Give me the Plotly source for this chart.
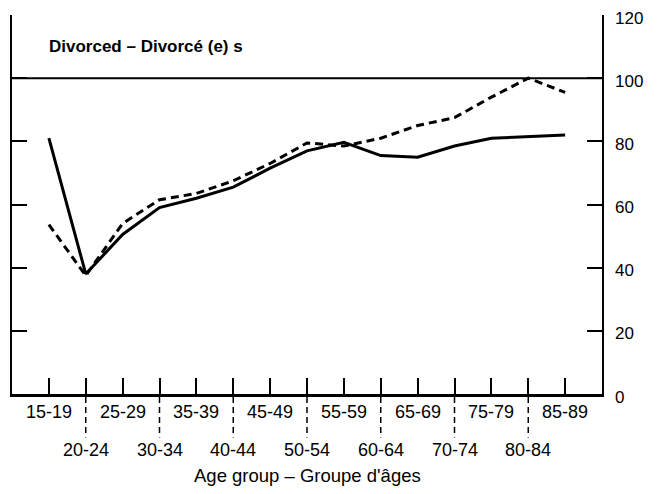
import plotly.graph_objects as go

age_groups = ["15-19", "20-24", "25-29", "30-34", "35-39", "40-44", "45-49",
              "50-54", "55-59", "60-64", "65-69", "70-74", "75-79", "80-84", "85-89"]
solid_values = [81, 38, 50.5, 59, 62, 65.5, 71.5, 77, 79.7, 75.5, 75, 78.5, 81, 81.6, 82]
dashed_values = [53.6, 37.5, 54, 61.5, 63.5, 67.5, 73, 79.5, 78.5, 81, 85, 87.5, 94, 100, 95.5]
y_ticks = [0, 20, 40, 60, 80, 100, 120]
reference_level = 100
title_text = "Divorced – Divorcé (e) s"
x_title = "Age group – Groupe d'âges"

idx = list(range(len(age_groups)))
FONT = "Liberation Sans, Arial, sans-serif"

fig = go.Figure()
fig.add_trace(go.Scatter(x=idx, y=solid_values, mode="lines",
                         line=dict(color="black", width=3), showlegend=False))
fig.add_trace(go.Scatter(x=idx, y=dashed_values, mode="lines",
                         line=dict(color="black", width=3, dash="8px,5px"), showlegend=False))
# invisible trace for right axis
fig.add_trace(go.Scatter(x=[idx[0]], y=[0], mode="markers", yaxis="y2",
                         marker=dict(opacity=0), showlegend=False, hoverinfo="skip"))

fig.add_shape(type="line", xref="paper", yref="y", x0=0, x1=1,
              y0=reference_level, y1=reference_level, line=dict(color="black", width=2))

# staggered category labels and dashed separators
for i, lab in enumerate(age_groups):
    if i % 2 == 0:
        fig.add_annotation(x=i, y=-0.0475, xref="x", yref="paper", text=lab,
                           showarrow=False, yanchor="middle",
                           font=dict(family=FONT, size=18, color="black"))
    else:
        fig.add_annotation(x=i, y=-0.148, xref="x", yref="paper", text=lab,
                           showarrow=False, yanchor="middle",
                           font=dict(family=FONT, size=18, color="black"))
        fig.add_shape(type="line", xref="x", yref="paper", x0=i, x1=i,
                      y0=-0.008, y1=-0.115,
                      line=dict(color="black", width=1.5, dash="6px,4px"))

# right-hand value labels (slightly below their ticks, as in the original)
for v in y_ticks:
    fig.add_annotation(x=1, y=v, xref="paper", yref="y", text=str(v),
                       showarrow=False, xanchor="left", yanchor="middle",
                       xshift=11, yshift=-3,
                       font=dict(family=FONT, size=17, color="black"))

fig.add_annotation(x=0.5, y=-0.216, xref="paper", yref="paper", text=x_title,
                   showarrow=False, yanchor="middle", xanchor="center",
                   font=dict(family=FONT, size=18.5, color="black"))
fig.add_annotation(x=0.059, y=0.918, xref="paper", yref="paper",
                   text="<b>" + title_text + "</b>", showarrow=False,
                   xanchor="left", yanchor="middle",
                   font=dict(family=FONT, size=17, color="black"))

y_range = [0, 120]

fig.update_layout(
    width=651, height=478,
    margin=dict(l=4, r=57, t=7, b=92, autoexpand=False),
    paper_bgcolor="white", plot_bgcolor="white",
    xaxis=dict(range=[-1, len(age_groups)], tickvals=idx, ticktext=[""] * len(idx),
               ticks="inside", ticklen=16, tickwidth=1.5, tickcolor="black",
               showline=True, linecolor="black", linewidth=2.5, automargin=False,
               showgrid=False, zeroline=False),
    yaxis=dict(range=y_range, tickvals=y_ticks[1:], showticklabels=False,
               ticks="inside", ticklen=15, tickwidth=1.5, tickcolor="black",
               showline=True, linecolor="black", linewidth=1.5, automargin=False,
               showgrid=False, zeroline=False),
    yaxis2=dict(range=y_range, overlaying="y", side="right", tickvals=y_ticks,
                showticklabels=False,
                ticks="inside", ticklen=15, tickwidth=1.5, tickcolor="black",
                showline=True, linecolor="black", linewidth=2, automargin=False,
                showgrid=False, zeroline=False),
)

fig.write_html("out.html")
